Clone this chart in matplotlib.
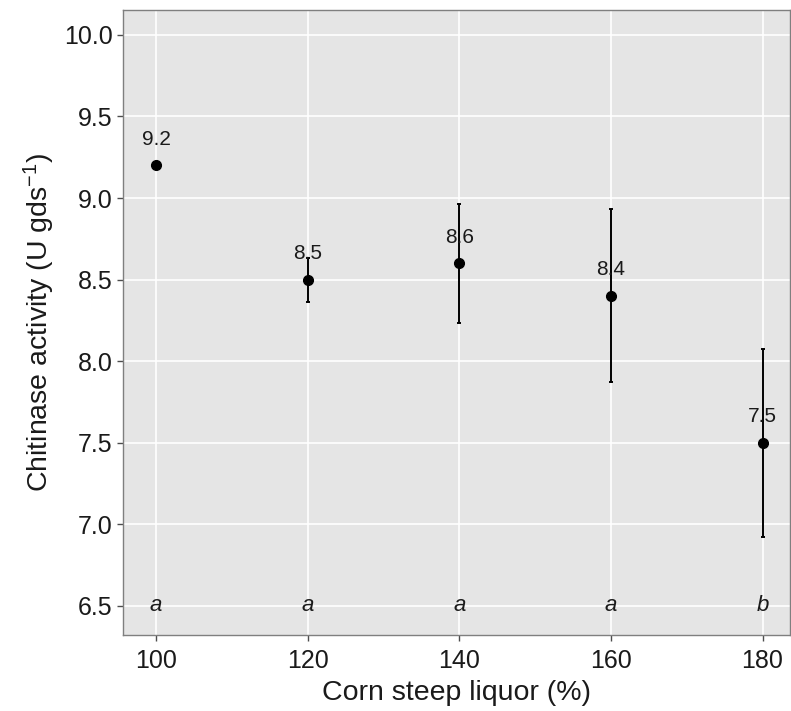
import numpy as np
import matplotlib.pyplot as plt

plt.rcParams['font.family'] = ['Liberation Sans', 'DejaVu Sans']
plt.rcParams['mathtext.fontset'] = 'custom'
plt.rcParams['mathtext.rm'] = 'Liberation Sans'
plt.rcParams['mathtext.it'] = 'Liberation Sans:italic'

# chitinase activity vs corn steep liquor level
csl = [100, 120, 140, 160, 180]
activity = [9.2, 8.5, 8.6, 8.4, 7.5]
sd = [0.0, 0.135, 0.365, 0.53, 0.575]
groups = ['a', 'a', 'a', 'a', 'b']

fig = plt.figure(figsize=(7.91, 7.11), dpi=100)
ax = fig.add_axes([0.1555, 0.107, 0.843, 0.879])
ax.set_facecolor('#e5e5e5')

ax.errorbar(csl, activity, yerr=sd, fmt='none', ecolor='black', elinewidth=1.4,
            capsize=1.5, capthick=1.4, zorder=3)
ax.plot(csl, activity, 'o', color='black', markersize=7, zorder=4)

for x, y in zip(csl, activity):
    ax.text(x, y + 0.16, '%.1f' % y, ha='center', va='center', fontsize=15,
            color='#1a1a1a', zorder=5)
for x, g in zip(csl, groups):
    ax.text(x, 6.5, g, ha='center', va='center', fontsize=16, style='italic',
            color='#1a1a1a', zorder=5)

ax.set_xlim(95.65, 183.6)
ax.set_ylim(6.322, 10.153)
ax.set_xticks(csl)
ax.set_yticks(np.arange(6.5, 10.01, 0.5))
ax.set_yticklabels(['%.1f' % v for v in np.arange(6.5, 10.01, 0.5)])

ax.grid(True, color='white', linewidth=1.2)
ax.set_axisbelow(True)
for s in ax.spines.values():
    s.set_color('#7f7f7f')
    s.set_linewidth(1.0)

ax.tick_params(axis='both', colors='#4d4d4d', length=4, width=1,
               labelsize=18, labelcolor='#1a1a1a')
ax.tick_params(axis='x', pad=6)
ax.set_xlabel('Corn steep liquor (%)', fontsize=20.5, color='#1a1a1a', labelpad=5)
ax.set_ylabel('Chitinase activity (U gds$^{-1}$)', fontsize=20.5, color='#1a1a1a',
              labelpad=5)

fig.savefig('out.png', dpi=100)
